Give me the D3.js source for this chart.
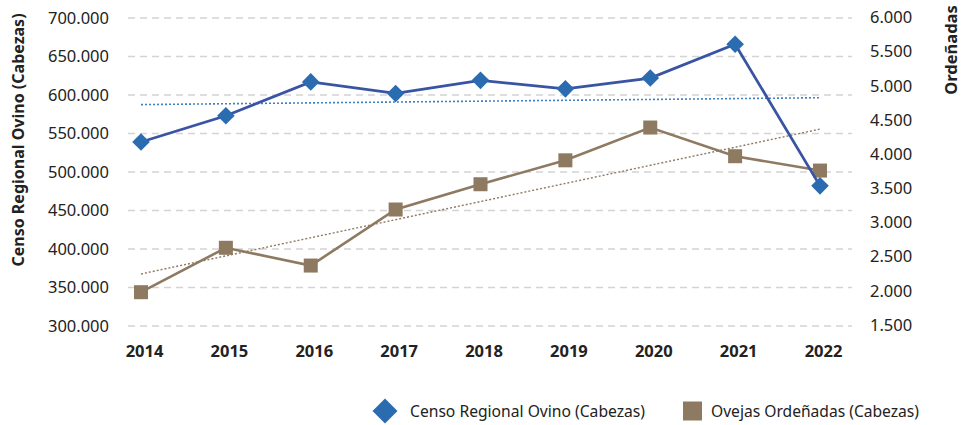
<!DOCTYPE html>
<html><head><meta charset="utf-8">
<script src="https://cdn.jsdelivr.net/npm/d3@7"></script>
<style>
html,body{margin:0;padding:0;background:#fff;}
svg{display:block;font-family:"Noto Sans","Open Sans",sans-serif;}
</style></head>
<body>
<svg id="chart" width="964" height="425"></svg>
<script>
const years = ["2014","2015","2016","2017","2018","2019","2020","2021","2022"];
const censoOvino = [539000, 573000, 617000, 602000, 619000, 608000, 622000, 666000, 482000];
const ovejasOrdenadas = [1980, 2630, 2370, 3190, 3560, 3910, 4390, 3970, 3760];
const leftTicks = [300000, 350000, 400000, 450000, 500000, 550000, 600000, 650000, 700000];
const rightTicks = [1500, 2000, 2500, 3000, 3500, 4000, 4500, 5000, 5500, 6000];
const seriesNames = ["Censo Regional Ovino (Cabezas)", "Ovejas Ordeñadas (Cabezas)"];
const leftTitle = "Censo Regional Ovino (Cabezas)";
const rightTitle = "Ordeñadas";

const svg = d3.select("#chart");
const FONT = "'Noto Sans','Open Sans',sans-serif";

const x = d3.scalePoint().domain(years).range([141, 820]);
const yL = d3.scaleLinear().domain([300000, 700000]).range([326, 18]);
const yR = d3.scaleLinear().domain([1500, 6000]).range([325, 17.5]);

const blueLine = "#3a54a4", blueMark = "#2b6cb0", brown = "#8e7961";
const dotFmt = d => d3.format(",")(d).replace(/,/g, ".");

// gridlines
svg.append("g").selectAll("line").data(leftTicks).join("line")
  .attr("x1", 128).attr("x2", 852)
  .attr("y1", d => yL(d)).attr("y2", d => yL(d))
  .attr("stroke", "#d4d4d4").attr("stroke-width", 1.3).attr("stroke-dasharray", "7,5");

// left axis
const gL = svg.append("g").attr("transform", "translate(109,0)")
  .call(d3.axisLeft(yL).tickValues(leftTicks).tickSize(0).tickPadding(0).tickFormat(dotFmt));
gL.select(".domain").remove();
gL.selectAll("text").attr("font-size", 16.5).attr("fill", "#222").attr("font-family", FONT);

// right axis
const gR = svg.append("g").attr("transform", "translate(870,0)")
  .call(d3.axisRight(yR).tickValues(rightTicks).tickSize(0).tickPadding(0).tickFormat(dotFmt));
gR.select(".domain").remove();
gR.selectAll("text").attr("font-size", 16.5).attr("fill", "#222").attr("font-family", FONT);

// x axis
const gX = svg.append("g").attr("transform", "translate(3,345)")
  .call(d3.axisBottom(x).tickSize(0).tickPadding(0));
gX.select(".domain").remove();
gX.selectAll("text").attr("font-size", 16.5).attr("font-weight", "bold").attr("fill", "#222").attr("font-family", FONT);

// axis titles
svg.append("text").attr("transform", "translate(24,140) rotate(-90)")
  .attr("text-anchor", "middle").attr("font-size", 16).attr("font-weight", "bold").attr("fill", "#222")
  .text(leftTitle);
svg.append("text").attr("transform", "translate(957,50) rotate(-90)")
  .attr("text-anchor", "middle").attr("font-size", 16.5).attr("font-weight", "bold").attr("fill", "#222")
  .text(rightTitle);

// linear regression trendlines
function regress(vals) {
  const n = vals.length, xs = vals.map((_, i) => i);
  const mx = d3.mean(xs), my = d3.mean(vals);
  const b = d3.sum(xs, (xi, i) => (xi - mx) * (vals[i] - my)) / d3.sum(xs, xi => (xi - mx) ** 2);
  const a = my - b * mx;
  return [a, a + b * (n - 1)];
}
const tB = regress(censoOvino), tO = regress(ovejasOrdenadas);
svg.append("line").attr("x1", x(years[0])).attr("x2", x(years[years.length-1]))
  .attr("y1", yL(tB[0])).attr("y2", yL(tB[1]))
  .attr("stroke", "#3f7fc2").attr("stroke-width", 1.6).attr("stroke-dasharray", "2,2");
svg.append("line").attr("x1", x(years[0])).attr("x2", x(years[years.length-1]))
  .attr("y1", yR(tO[0])).attr("y2", yR(tO[1]))
  .attr("stroke", brown).attr("stroke-width", 1.4).attr("stroke-dasharray", "2,2");

// brown series
svg.append("path").datum(ovejasOrdenadas)
  .attr("d", d3.line().x((d, i) => x(years[i])).y(d => yR(d)))
  .attr("fill", "none").attr("stroke", brown).attr("stroke-width", 2.6);
svg.append("g").selectAll("rect").data(ovejasOrdenadas).join("rect")
  .attr("x", (d, i) => x(years[i]) - 7).attr("y", d => yR(d) - 7)
  .attr("width", 14).attr("height", 14).attr("fill", brown);

// blue series
svg.append("path").datum(censoOvino)
  .attr("d", d3.line().x((d, i) => x(years[i])).y(d => yL(d)))
  .attr("fill", "none").attr("stroke", blueLine).attr("stroke-width", 2.8);
svg.append("g").selectAll("path").data(censoOvino).join("path")
  .attr("d", "M0,-8.8L8.8,0L0,8.8L-8.8,0Z")
  .attr("transform", (d, i) => `translate(${x(years[i])},${yL(d)})`)
  .attr("fill", blueMark);

// legend
const lg = svg.append("g").attr("font-family", FONT);
lg.append("path").attr("d", "M0,-12.5L12.5,0L0,12.5L-12.5,0Z").attr("transform", "translate(385,411)").attr("fill", blueMark);
lg.append("text").attr("x", 410).attr("y", 416.5).attr("font-size", 15.5).attr("fill", "#222")
  .attr("textLength", 235).attr("lengthAdjust", "spacingAndGlyphs").text(seriesNames[0]);
lg.append("rect").attr("x", 683).attr("y", 401.5).attr("width", 19).attr("height", 19).attr("fill", brown);
lg.append("text").attr("x", 711).attr("y", 416.5).attr("font-size", 15.5).attr("fill", "#222")
  .attr("textLength", 208).attr("lengthAdjust", "spacingAndGlyphs").text(seriesNames[1]);
</script>
</body></html>
